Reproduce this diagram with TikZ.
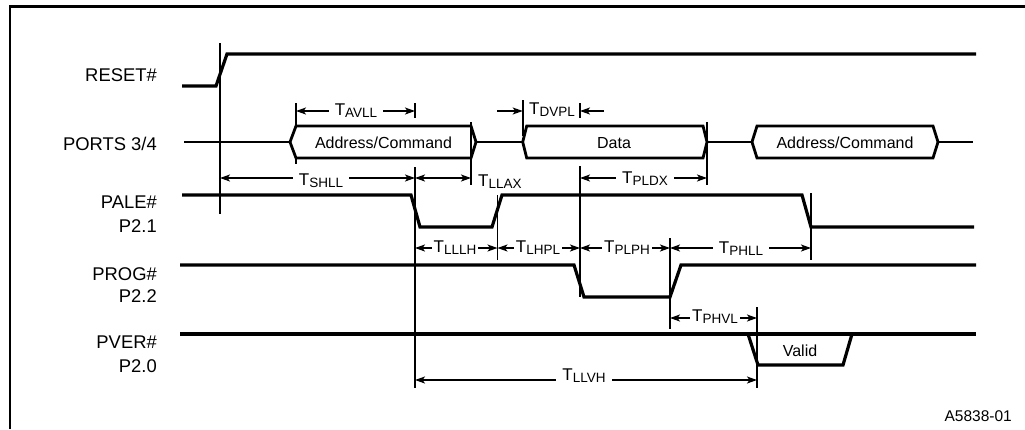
\documentclass[tikz,border=0pt]{standalone}
\usepackage{fontspec}
\setmainfont{Liberation Sans}
\usetikzlibrary{arrows.meta}
\newcommand\Tlab[1]{\fontsize{17}{18}\selectfont T\raisebox{-2.5pt}{\fontsize{13.5}{14}\selectfont #1}}
\begin{document}
\begin{tikzpicture}[x=1pt,y=-1pt,
  frame/.style={line width=2.2pt},
  sig/.style={line width=3.2pt},
  bus/.style={line width=2.8pt},
  tick/.style={line width=1.6pt},
  tip/.tip={Stealth[length=10pt,width=7pt,inset=2.5pt]},
  dim/.style={line width=1.6pt,tip-tip},
  dimr/.style={line width=1.6pt,-tip},
  tlab/.style={fill=white,inner xsep=6pt,inner ysep=1.5pt,anchor=base},
  tlabs/.style={tlab,inner xsep=2pt},
  siglab/.style={anchor=base east,inner sep=0pt,font=\fontsize{18.4}{20}\selectfont},
  buslab/.style={anchor=base,inner sep=0pt,font=\fontsize{16}{18}\selectfont}]
\useasboundingbox (0,0) rectangle (1025,429);
% frame
\draw[frame] (10,429) -- (10,6.5) -- (1025,6.5);
% signal labels
\node[siglab] (lreset) at (157,81.7) {RESET\#};
\node[siglab] (lports) at (157,150) {PORTS 3/4};
\node[siglab] (lpale) at (157,208) {PALE\#};
\node[siglab] (lp21) at (157,232) {P2.1};
\node[siglab] (lprog) at (157,280) {PROG\#};
\node[siglab] (lp22) at (157,302) {P2.2};
\node[siglab] (lpver) at (157,348) {PVER\#};
\node[siglab] (lp20) at (157,372) {P2.0};
\node[anchor=base east,inner sep=0pt,font=\fontsize{15.5}{17}\selectfont] (fig) at (1012,421) {A5838-01};
% reference ticks
\draw[tick] (220,43) -- (220,214);
\draw[tick] (296,103) -- (296,126);
\draw[tick] (296,158) -- (296,164);
\draw[tick] (415,103) -- (415,118);
\draw[tick] (415,167) -- (415,388);
\draw[tick] (471,122) -- (471,185);
\draw[tick] (522.7,100) -- (522.7,136);
\draw[tick] (580,103) -- (580,118);
\draw[tick] (580,166) -- (580,297);
\draw[tick] (707,122) -- (707,185);
\draw[tick] (497.5,195) -- (497.5,260);
\draw[tick] (811,193) -- (811,260);
\draw[tick] (670,238) -- (670,329);
\draw[tick] (757,307) -- (757,388);
% signals
\draw[sig] (182,86) -- (216,86) -- (227,54) -- (976,54);
\draw[sig] (182,195) -- (411,195) -- (420,227) -- (492,227) -- (502,195) -- (802,195) -- (811,227) -- (974,227);
\draw[sig] (180,265) -- (574,265) -- (584,297) -- (670,297) -- (681,265) -- (976,265);
\draw[sig] (180,334) -- (976,334);
\draw[sig] (748,334) -- (758,365) -- (843,365) -- (852,334);
% ports bus
\draw[bus] (184,142) -- (290,142);
\draw[bus] (290,142) -- (296,126) -- (471,126) -- (476,142) -- (471,158) -- (296,158) -- cycle;
\draw[bus] (476,142) -- (522.7,142);
\draw[bus] (522.7,142) -- (526.7,126) -- (703,126) -- (707,142) -- (703,158) -- (526.7,158) -- cycle;
\draw[bus] (707,142) -- (752,142);
\draw[bus] (752,142) -- (757,126) -- (933,126) -- (938,142) -- (933,158) -- (757,158) -- cycle;
\draw[bus] (938,142) -- (973,142);
\node[buslab] (ac1) at (383.5,148) {Address/Command};
\node[buslab] (data) at (614,148) {Data};
\node[buslab] (ac2) at (845,148) {Address/Command};
\node[buslab] (valid) at (800,356) {Valid};
% timing arrows
\draw[dim] (296,111) -- (415,111);
\draw[dim] (220,178) -- (415,178);
\draw[dim] (415,178) -- (471,178);
\draw[dimr] (497,111) -- (522.7,111);
\draw[dimr] (604,111) -- (580,111);
\draw[dim] (580,178) -- (707,178);
\draw[dim] (415,248) -- (497.5,248);
\draw[dim] (497.5,248) -- (580,248);
\draw[dim] (580,248) -- (670,248);
\draw[dim] (670,248) -- (811,248);
\draw[dim] (670,318) -- (757,318);
\draw[dim] (415,380) -- (757,380);
% timing labels
\node[tlab] (tavll) at (356,115) {\Tlab{AVLL}};
\node[tlab] (tshll) at (321,185) {\Tlab{SHLL}};
\node[anchor=base west,inner sep=0pt] (tllax) at (478,186) {\Tlab{LLAX}};
\node[anchor=base,inner sep=0pt] (tdvpl) at (552,114) {\Tlab{DVPL}};
\node[tlab] (tpldx) at (645,183) {\Tlab{PLDX}};
\node[tlabs] (tlllh) at (455,252) {\Tlab{LLLH}};
\node[tlabs] (tlhpl) at (538,252) {\Tlab{LHPL}};
\node[tlabs] (tplph) at (627,252) {\Tlab{PLPH}};
\node[tlab] (tphll) at (741,253) {\Tlab{PHLL}};
\node[tlabs] (tphvl) at (715,321) {\Tlab{PHVL}};
\node[tlab] (tllvh) at (584,380) {\Tlab{LLVH}};
\end{tikzpicture}
\end{document}
